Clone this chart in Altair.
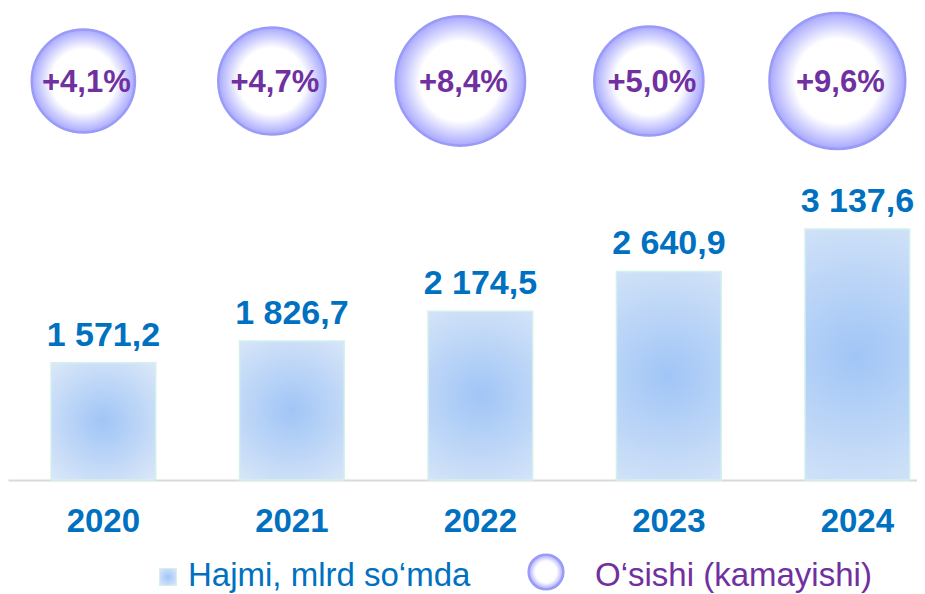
import altair as alt
import pandas as pd

# ---- data ----
years = ["2020", "2021", "2022", "2023", "2024"]
volume = [1571.2, 1826.7, 2174.5, 2640.9, 3137.6]
growth = [4.1, 4.7, 8.4, 5.0, 9.6]
legend_labels = ["Hajmi, mlrd so‘mda", "O‘sishi (kamayishi)"]


def fmt_vol(v):
    return f"{v:,.1f}".replace(",", " ").replace(".", ",")


def fmt_growth(g):
    return ("+" if g >= 0 else "") + f"{g:.1f}".replace(".", ",") + "%"


df = pd.DataFrame({
    "year": years,
    "volume": volume,
    "growth": growth,
    "vol_label": [fmt_vol(v) for v in volume],
    "growth_label": [fmt_growth(g) for g in growth],
})

W, H = 909, 472
FONT = "Liberation Sans"
BLUE = "#0070c0"
PURPLE = "#7030a0"

bar_grad = alt.RadialGradient(
    gradient="radial", x1=0.5, y1=0.5, r1=0, x2=0.5, y2=0.5, r2=0.65,
    stops=[alt.GradientStop(offset=0, color="#a0c5f6"),
           alt.GradientStop(offset=1, color="#dae7f8")])

bubble_grad = alt.RadialGradient(
    gradient="radial", x1=0.5, y1=0.5, r1=0, x2=0.5, y2=0.5, r2=0.5,
    stops=[alt.GradientStop(offset=0, color="#ffffff"),
           alt.GradientStop(offset=0.62, color="#ffffff"),
           alt.GradientStop(offset=1, color="#a8a8ff")])

x_enc = alt.X(
    "year:N",
    scale=alt.Scale(paddingInner=0.4444, paddingOuter=0.1334, align=0.855),
    axis=alt.Axis(title=None, ticks=False, grid=False, labelAngle=0,
                  labelPadding=25, labelFont=FONT, labelFontSize=33,
                  labelFontWeight="bold", labelColor=BLUE,
                  domainColor="#d9d9d9", domainWidth=2),
)
y_scale = alt.Scale(domain=[200, 5724])

base = alt.Chart(df)

bars = base.mark_bar(fill=bar_grad, stroke="#d3f1ec", strokeWidth=1.5).encode(
    x=x_enc,
    y=alt.Y("volume:Q", scale=y_scale, axis=None),
    y2=alt.datum(200),
)

vol_text = base.mark_text(
    dy=-17, baseline="alphabetic", font=FONT, fontSize=34,
    fontWeight="bold", color=BLUE,
).encode(
    x=x_enc,
    y=alt.Y("volume:Q", scale=y_scale, axis=None),
    text="vol_label:N",
)

bubbles = base.mark_point(
    shape="circle", filled=True, fill=bubble_grad, stroke="#9a9af7",
    strokeWidth=2.5, opacity=1, xOffset=-20,
).encode(
    x=x_enc,
    y=alt.value(73),
    size=alt.Size("growth:Q", scale=alt.Scale(domain=[4, 10], range=[10500, 19000]),
                  legend=None),
)

bubble_text = base.mark_text(
    xOffset=-17, baseline="middle", font=FONT, fontSize=31,
    fontWeight="bold", color=PURPLE,
).encode(
    x=x_enc,
    y=alt.value(75),
    text="growth_label:N",
)

# ---- legend ----
leg1 = pd.DataFrame({"label": [legend_labels[0]]})
leg2 = pd.DataFrame({"label": [legend_labels[1]]})

leg_sq = alt.Chart(leg1).mark_point(
    shape="square", filled=True, fill=bar_grad, stroke="#d3f1ec",
    strokeWidth=1, size=289, opacity=1,
).encode(x=alt.value(160), y=alt.value(569))

leg_t1 = alt.Chart(leg1).mark_text(
    align="left", baseline="alphabetic", font=FONT, fontSize=33, color=BLUE,
).encode(x=alt.value(180), y=alt.value(578), text="label:N")

leg_circ = alt.Chart(leg2).mark_point(
    shape="circle", filled=True, fill=bubble_grad, stroke="#9a9af7",
    strokeWidth=2.5, size=1200, opacity=1,
).encode(x=alt.value(538), y=alt.value(564))

leg_t2 = alt.Chart(leg2).mark_text(
    align="left", baseline="alphabetic", font=FONT, fontSize=33, color=PURPLE,
).encode(x=alt.value(587), y=alt.value(578), text="label:N")

chart = alt.layer(
    bars, vol_text, bubbles, bubble_text, leg_sq, leg_t1, leg_circ, leg_t2
).properties(
    width=W, height=H,
    background="white",
    autosize=alt.AutoSizeParams(type="none"),
    padding={"left": 0, "top": 0, "right": 0, "bottom": 114},
).configure_view(strokeWidth=0, stroke="transparent")

chart.save("out.html", embed_options={"renderer": "svg", "actions": False})
